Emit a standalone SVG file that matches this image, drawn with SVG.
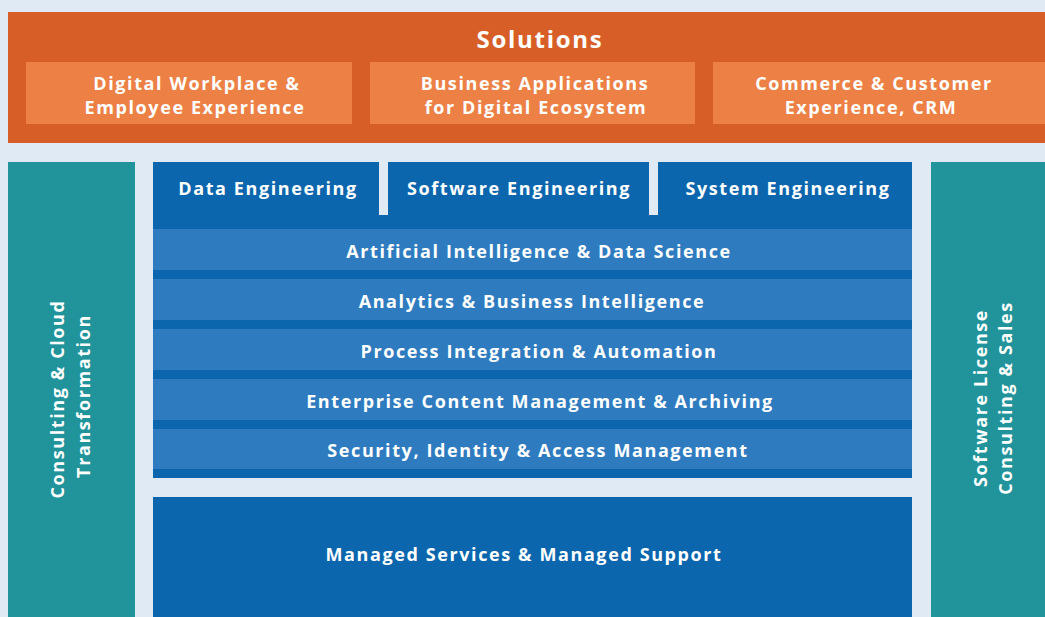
<svg xmlns="http://www.w3.org/2000/svg" width="1045" height="617" viewBox="0 0 1045 617">
<style>
.t{font-family:"Open Sans","Liberation Sans",sans-serif;font-weight:700;fill:#ffffff;text-anchor:middle;font-size:18px;letter-spacing:1.6px}
.orange{fill:#d75f27}
.sol{fill:#ec8045}
.teal{fill:#21939b}
.dark{fill:#0b66ae}
.row{fill:#2e7bbf}
</style>
<rect x="0" y="0" width="1045" height="617" fill="#dfeaf5"/>
<g id="solutions">
<rect class="orange" x="8" y="12" width="1037" height="131"/>
<text class="t" x="540" y="48" style="font-size:24px;letter-spacing:1.7px">Solutions</text>
</g>
<g id="digital-workplace">
<rect class="sol" x="26" y="62" width="326" height="62"/>
<text class="t" x="197" y="90">Digital Workplace &amp;</text>
<text class="t" x="195" y="114">Employee Experience</text>
</g>
<g id="business-apps">
<rect class="sol" x="370" y="62" width="325" height="62"/>
<text class="t" x="535" y="90">Business Applications</text>
<text class="t" x="536" y="114">for Digital Ecosystem</text>
</g>
<g id="commerce">
<rect class="sol" x="713" y="62" width="332" height="62"/>
<text class="t" x="874" y="90">Commerce &amp; Customer</text>
<text class="t" x="871" y="114">Experience, CRM</text>
</g>
<g id="consulting-cloud">
<rect class="teal" x="8" y="162" width="127" height="455"/>
<text class="t" transform="translate(64,399) rotate(-90)">Consulting &amp; Cloud</text>
<text class="t" transform="translate(90,396) rotate(-90)">Transformation</text>
</g>
<g id="software-license">
<rect class="teal" x="931" y="162" width="114" height="455"/>
<text class="t" transform="translate(987,398) rotate(-90)">Software License</text>
<text class="t" transform="translate(1012,398) rotate(-90)">Consulting &amp; Sales</text>
</g>
<g id="engineering">
<rect class="dark" x="153" y="162" width="759" height="316"/>
<rect x="379" y="162" width="9" height="53" fill="#dfeaf5"/>
<rect x="649" y="162" width="9" height="53" fill="#dfeaf5"/>
</g>
<g id="data-engineering">
<text class="t" x="268" y="195">Data Engineering</text>
</g>
<g id="software-engineering">
<text class="t" x="519" y="195">Software Engineering</text>
</g>
<g id="system-engineering">
<text class="t" x="788" y="195">System Engineering</text>
</g>
<g id="ai">
<rect class="row" x="153" y="229" width="759" height="41"/>
<text class="t" x="539" y="258">Artificial Intelligence &amp; Data Science</text>
</g>
<g id="analytics">
<rect class="row" x="153" y="279" width="759" height="41"/>
<text class="t" x="532" y="308">Analytics &amp; Business Intelligence</text>
</g>
<g id="process">
<rect class="row" x="153" y="329" width="759" height="41"/>
<text class="t" x="539" y="358">Process Integration &amp; Automation</text>
</g>
<g id="ecm">
<rect class="row" x="153" y="379" width="759" height="41"/>
<text class="t" x="540" y="408">Enterprise Content Management &amp; Archiving</text>
</g>
<g id="security">
<rect class="row" x="153" y="429" width="759" height="40"/>
<text class="t" x="538" y="457">Security, Identity &amp; Access Management</text>
</g>
<g id="managed">
<rect class="dark" x="153" y="497" width="759" height="120"/>
<text class="t" x="524" y="561">Managed Services &amp; Managed Support</text>
</g>
<g id="connectors"></g>
</svg>
